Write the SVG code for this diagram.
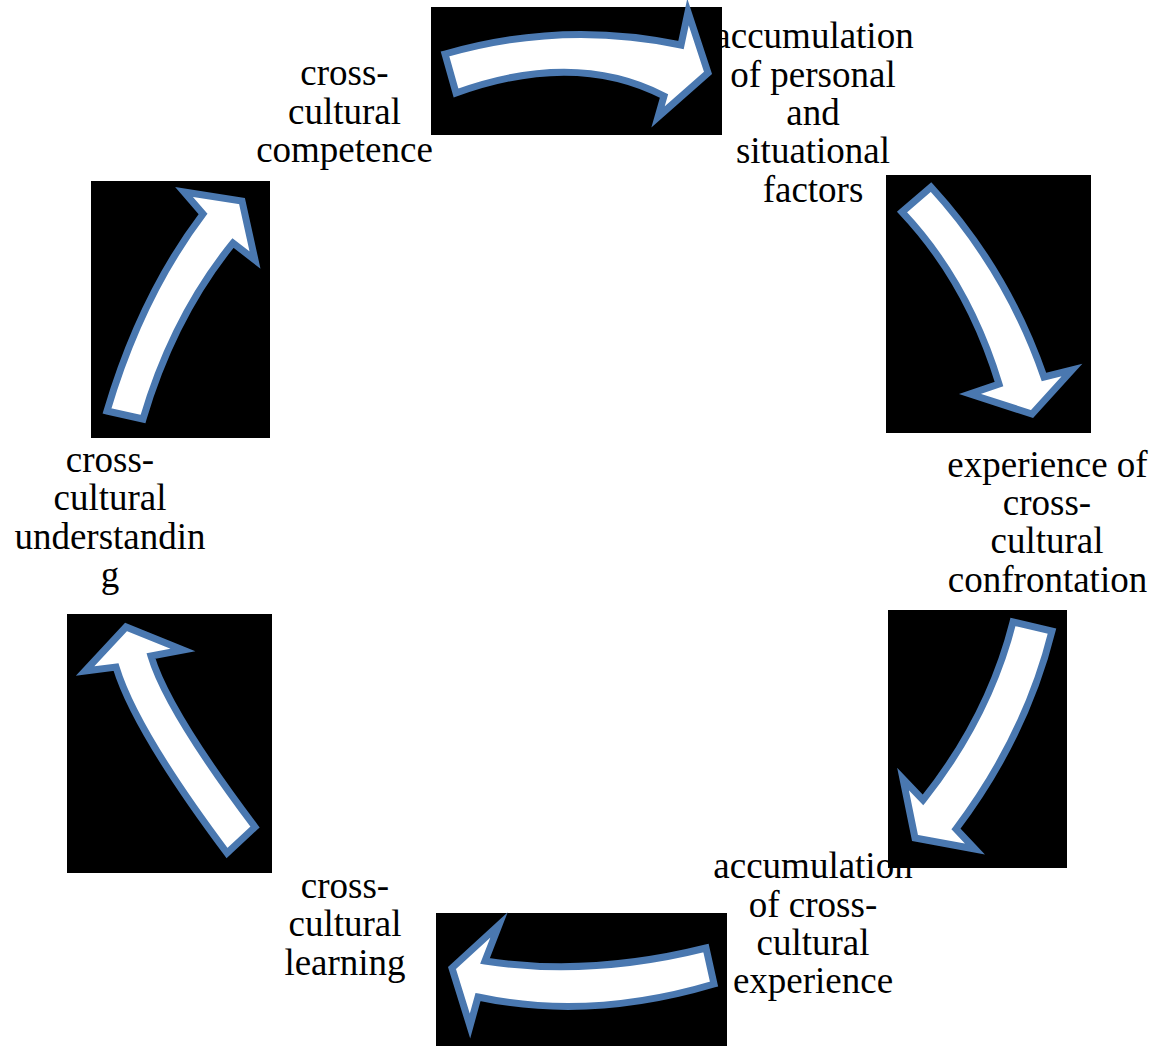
<svg xmlns="http://www.w3.org/2000/svg" width="1164" height="1046" viewBox="0 0 1164 1046">
<style>
.box{fill:#000}
.arr{fill:#fff;stroke:#4a78b0;stroke-width:7;stroke-linejoin:miter;stroke-miterlimit:10}
</style>
<rect width="1164" height="1046" fill="#fff"/>
<g font-family="'Liberation Serif', 'Times New Roman', Times, serif" font-size="37" fill="#000" text-anchor="middle">
<g id="n-personal">
<text><tspan x="814" y="48">accumulation</tspan><tspan x="813" y="86.5">of personal</tspan><tspan x="813" y="125">and</tspan><tspan x="813" y="163">situational</tspan><tspan x="813" y="201.5">factors</tspan></text>
</g>
<g id="n-confrontation">
<text><tspan x="1047.5" y="476.5">experience of</tspan><tspan x="1047" y="515">cross-</tspan><tspan x="1047" y="553">cultural</tspan><tspan x="1047.5" y="591.5">confrontation</tspan></text>
</g>
<g id="n-experience">
<text><tspan x="813" y="878">accumulation</tspan><tspan x="813" y="916.5">of cross-</tspan><tspan x="813" y="955">cultural</tspan><tspan x="813" y="993">experience</tspan></text>
</g>
<g id="n-learning">
<text><tspan x="345" y="897.5">cross-</tspan><tspan x="345" y="936">cultural</tspan><tspan x="345" y="974.5">learning</tspan></text>
</g>
<g id="n-understanding">
<text><tspan x="110" y="472">cross-</tspan><tspan x="110" y="510">cultural</tspan><tspan x="110" y="548.5">understandin</tspan><tspan x="110" y="587">g</tspan></text>
</g>
<g id="n-competence">
<text><tspan x="344.5" y="85">cross-</tspan><tspan x="344.5" y="123.5">cultural</tspan><tspan x="344.5" y="162">competence</tspan></text>
</g>
</g>
<g id="connectors">
<g id="c-top">
<rect class="box" x="431" y="7" width="291" height="128"/>
<path class="arr" d="M445,54 Q563,20 681,45 L688,12 L708,73 L658,117 L664,96 Q575,50 456,93 Z"/>
</g>
<g id="c-right-top">
<rect class="box" x="886" y="175" width="205" height="258"/>
<path class="arr" d="M902,212 L931,187 Q1007,270 1044,377 L1072,370 L1032,414 L970,394 L999,384 Q968,282 902,212 Z"/>
</g>
<g id="c-right-bottom">
<rect class="box" x="888" y="610" width="179" height="258"/>
<path class="arr" d="M1013,622 L1052,631 Q1026,736 956,829 L975,849 L915,838 L903,779 L923,800 Q989,717 1013,622 Z"/>
</g>
<g id="c-bottom">
<rect class="box" x="436" y="913" width="291" height="133"/>
<path class="arr" d="M706,948 Q590,977 485,961 L499,925 L452,968 L470,1026 L478,997 Q590,1021 714,984 Z"/>
</g>
<g id="c-left-bottom">
<rect class="box" x="67" y="614" width="205" height="259"/>
<path class="arr" d="M255,827 L227,853 Q135,730 116,667 L85,671 L126,627 L183,650 L151,656 Q167,710 255,827 Z"/>
</g>
<g id="c-left-top">
<rect class="box" x="91" y="181" width="179" height="257"/>
<path class="arr" d="M107,411 L143,419 Q173,317 233,243 L255,260 L242,201 L184,192 L203,214 Q141,296 107,411 Z"/>
</g>
</g>
</svg>
